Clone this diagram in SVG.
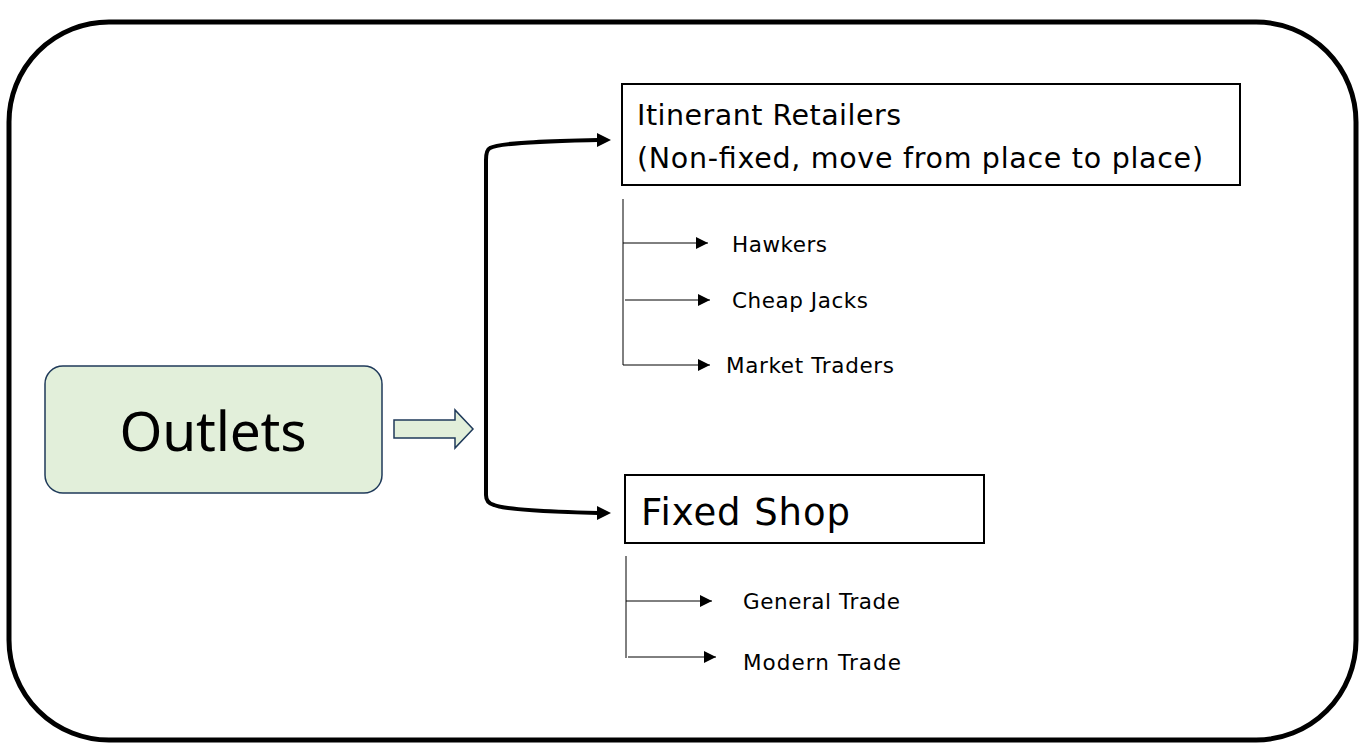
<svg xmlns="http://www.w3.org/2000/svg" width="1367" height="749" viewBox="0 0 1367 749">
<style>
text{font-family:"DejaVu Sans","Noto Sans",sans-serif;fill:#000}
.box{fill:#fff;stroke:#000;stroke-width:2}
.thin{stroke:#000;stroke-width:1;fill:none}
.br{stroke:#000;stroke-width:4;fill:none}
.sm{font-size:21.5px}
</style>
<defs>
<marker id="a" viewBox="0 0 10 10" refX="10" refY="5" markerWidth="12" markerHeight="12" markerUnits="userSpaceOnUse" orient="auto"><path d="M0,0L10,5L0,10z" fill="#000"/></marker>
</defs>
<rect x="9" y="22" width="1347" height="718" rx="100" fill="#fff" stroke="#000" stroke-width="5"/>
<g id="outlets">
<rect x="45" y="366" width="337" height="127" rx="18" fill="#e2efda" stroke="#1f3a5a" stroke-width="1.5"/>
<text x="213" y="451" font-size="55" text-anchor="middle" style="font-family:'Noto Sans','DejaVu Sans',sans-serif" textLength="187">Outlets</text>
</g>
<g id="itinerant">
<rect class="box" x="622" y="84" width="618" height="101"/>
<text x="637" y="125" font-size="28.5" textLength="264">Itinerant Retailers</text>
<text x="637" y="168" font-size="28.5" textLength="566">(Non-fixed, move from place to place)</text>
</g>
<g id="fixed">
<rect class="box" x="625" y="475" width="359" height="68"/>
<text x="641" y="525" font-size="37" textLength="209">Fixed Shop</text>
</g>
<g id="hawkers"><text class="sm" x="732" y="252" textLength="95">Hawkers</text></g>
<g id="cheap"><text class="sm" x="732" y="308" textLength="136">Cheap Jacks</text></g>
<g id="market"><text class="sm" x="726" y="373" textLength="168">Market Traders</text></g>
<g id="general"><text class="sm" x="743" y="609" textLength="157">General Trade</text></g>
<g id="modern"><text class="sm" x="743" y="670" textLength="158">Modern Trade</text></g>
<g id="connectors">
<path d="M394,420H455V410L473,429L455,448V438H394Z" fill="#e2efda" stroke="#1f3a5a" stroke-width="1.5"/>
<path class="br" d="M598,140C560,141 500,142 490,148Q486,150 486,160V495Q486,503 494,505C505,510 560,512 598,513"/>
<path d="M611,140l-14,-7v14z" fill="#000"/>
<path d="M611,513l-14,-7v14z" fill="#000"/>
<path class="thin" d="M623,199V365"/>
<path class="thin" d="M623,243H708" marker-end="url(#a)"/>
<path class="thin" d="M625,300H710" marker-end="url(#a)"/>
<path class="thin" d="M623,365H710" marker-end="url(#a)"/>
<path class="thin" d="M626,556V658"/>
<path class="thin" d="M626,601H712" marker-end="url(#a)"/>
<path class="thin" d="M628,657H716" marker-end="url(#a)"/>
</g>
</svg>
